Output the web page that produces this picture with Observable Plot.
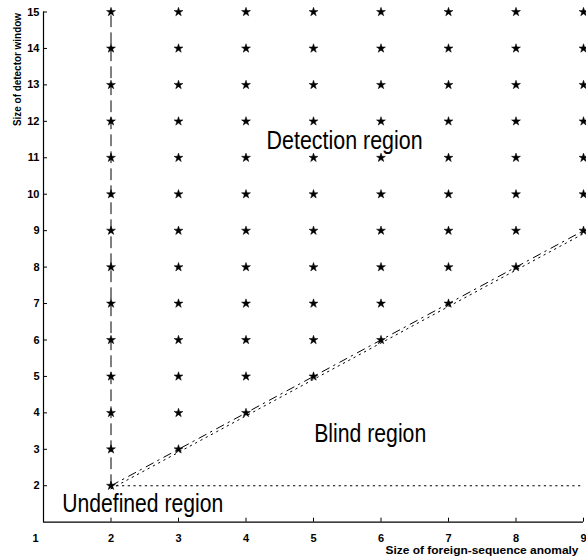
<!DOCTYPE html>
<html><head><meta charset="utf-8">
<script src="https://cdn.jsdelivr.net/npm/d3@7"></script>
<script src="https://cdn.jsdelivr.net/npm/@observablehq/plot@0.6"></script>
<style>
body{margin:0;background:#fff}
#chart{position:absolute;left:0;top:0}
</style>
</head><body><div id="chart"></div>
<script>
// ---- data ----
const xTicks = [1, 2, 3, 4, 5, 6, 7, 8, 9];
const yTicks = [2, 3, 4, 5, 6, 7, 8, 9, 10, 11, 12, 13, 14, 15];
const anomalySizes = [2, 3, 4, 5, 6, 7, 8, 9];          // star columns
const lowestWindow  = [2, 3, 4, 5, 6, 7, 8, 9];          // lowest star in each column
const highestWindow = [15, 15, 15, 15, 15, 15, 15, 15];  // highest star in each column
const dashedX = [2, 2], dashedY = [2, 15];
const diagX = [2, 9], diagY = [2, 9];
const floorX = [2, 9], floorY = [2, 2];
const regionNames = ["Detection region", "Blind region", "Undefined region"];
const regionX = [5.46, 5.84, 2.47];
const regionY = [11.25, 3.21, 1.27];
const xLabel = "Size of foreign-sequence anomaly";
const yLabel = "Size of detector window";

// ---- tables ----
const stars = [];
anomalySizes.forEach((a, i) => {
  for (let w = lowestWindow[i]; w <= highestWindow[i]; w++) stars.push({a, w});
});
const pts = (xs, ys) => xs.map((x, i) => ({x, y: ys[i]}));
const regions = regionNames.map((name, i) => ({name, x: regionX[i], y: regionY[i]}));

const font = "'Liberation Sans',Arial,Helvetica,sans-serif";

const chart = Plot.plot({
  width: 586,
  height: 560,
  marginLeft: 43,
  marginRight: 3,
  marginTop: 11.5,
  marginBottom: 38.3,
  x: {domain: [1, 9]},
  y: {domain: [1, 15]},
  style: {background: "#fff", color: "#000"},
  marks: [
    Plot.ruleX([1], {stroke: "#000", strokeWidth: 1.2}),
    Plot.ruleY([1], {stroke: "#000", strokeWidth: 1.2}),
    // inward ticks
    Plot.axisX({ticks: xTicks, tickSize: -4, text: null, label: null, strokeWidth: 1}),
    Plot.axisY({ticks: yTicks, tickSize: -4, text: null, label: null, strokeWidth: 1}),
    // tick labels
    Plot.axisX({ticks: xTicks.slice(1), tickSize: 0, tickPadding: 11.5, label: null,
      fontSize: 11, fontWeight: "bold", fontFamily: font}),
    Plot.axisX({ticks: xTicks.slice(0, 1), tickSize: 0, tickPadding: 11.5, label: null, dx: -8,
      fontSize: 11, fontWeight: "bold", fontFamily: font}),
    Plot.axisY({ticks: yTicks, tickSize: 0, tickPadding: 4, label: null,
      fontSize: 11, fontWeight: "bold", fontFamily: font}),
    // boundary lines
    Plot.line(pts(dashedX, dashedY), {x: "x", y: "y", stroke: "#000", strokeWidth: 1, strokeDasharray: "11,6"}),
    Plot.line(pts(diagX, diagY), {x: "x", y: "y", stroke: "#000", strokeWidth: 1, strokeDasharray: "8,5,1.5,5.5"}),
    Plot.line(pts(diagX, diagY), {x: "x", y: "y", stroke: "#000", strokeWidth: 1, strokeDasharray: "1.5,4.5", dy: 3}),
    Plot.line(pts(floorX, floorY), {x: "x", y: "y", stroke: "#000", strokeWidth: 1, strokeDasharray: "1.5,4.2"}),
    // stars
    Plot.dot(stars, {x: "a", y: "w", symbol: "star", r: 2.8, fill: "#000", stroke: "#000", strokeWidth: 0.5}),
    // region labels
    Plot.text(regions, {x: "x", y: "y", text: "name", textAnchor: "middle", lineAnchor: "bottom",
      fontSize: 25, fontFamily: font, fill: "#000"}),
    // axis titles
    Plot.text([xLabel], {frameAnchor: "bottom-right", textAnchor: "end", lineAnchor: "bottom",
      dx: -5, dy: 32, fontSize: 11.5, fontWeight: "bold", fontFamily: font, fill: "#000"}),
    Plot.text([yLabel], {frameAnchor: "top-left", rotate: -90, textAnchor: "middle", lineAnchor: "middle",
      dx: -26, dy: 57.5, fontSize: 11, fontWeight: "bold", fontFamily: font, fill: "#000"})
  ]
});

// condense the text to the widths measured in the reference
const fitWidths = {
  "Detection region": 156,
  "Blind region": 112,
  "Undefined region": 161,
  "Size of foreign-sequence anomaly": 193,
  "Size of detector window": 113
};
chart.querySelectorAll("text").forEach(t => {
  const w = fitWidths[t.textContent];
  if (w) {
    t.setAttribute("textLength", w);
    t.setAttribute("lengthAdjust", "spacingAndGlyphs");
  }
});
document.getElementById("chart").appendChild(chart);
</script>
</body></html>
